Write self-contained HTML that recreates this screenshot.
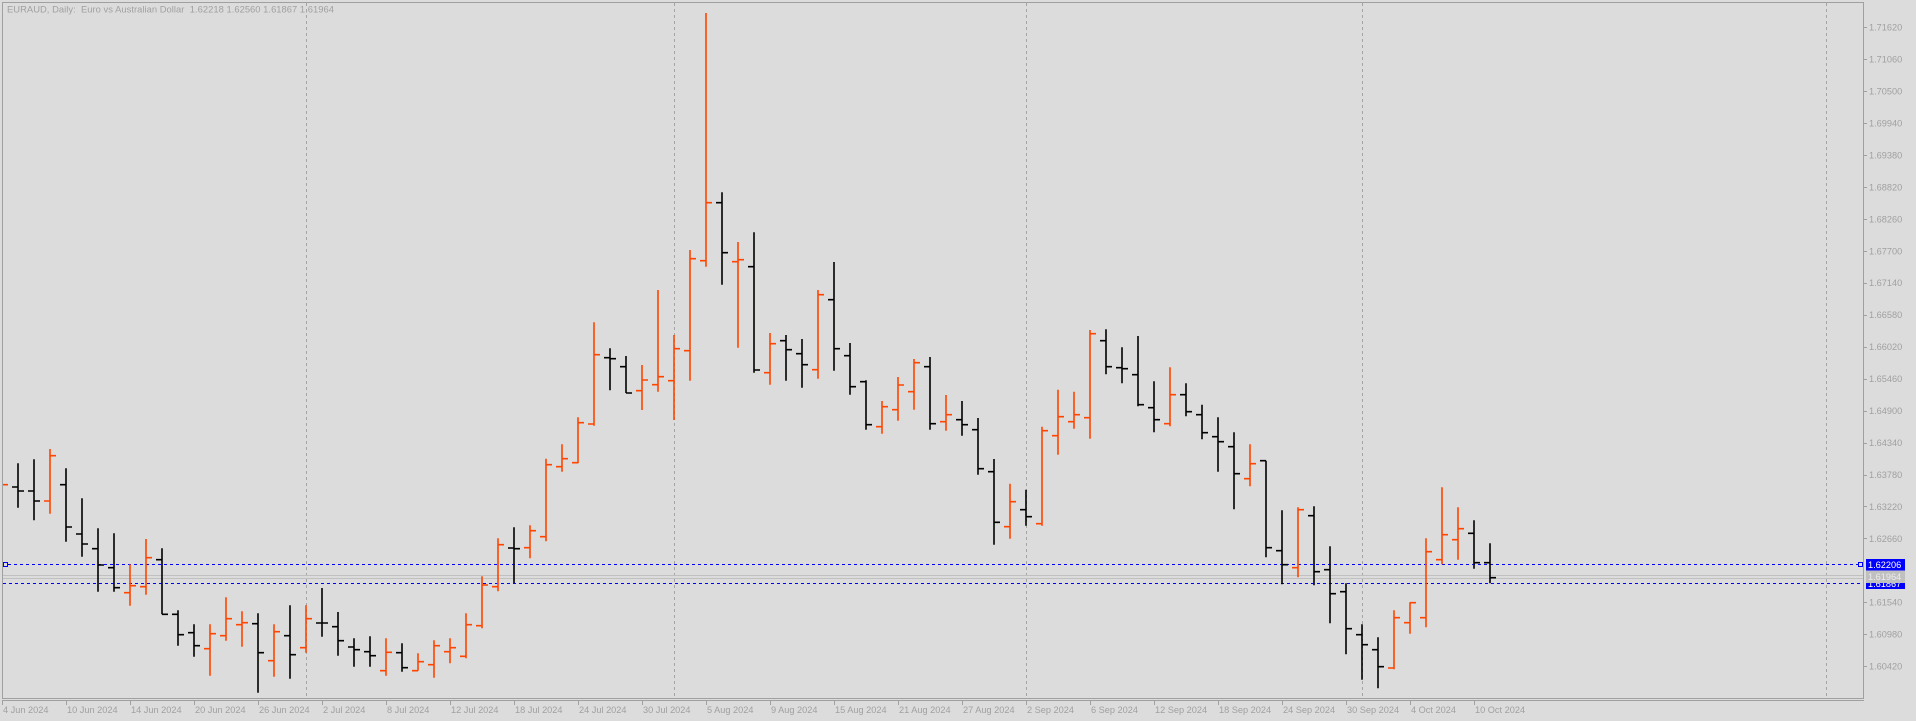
<!DOCTYPE html>
<html>
<head>
<meta charset="utf-8">
<style>
html,body{margin:0;padding:0;background:#dcdcdc;}
svg{display:block;}
text{font-family:"Liberation Sans",Arial,sans-serif;}
</style>
</head>
<body>
<svg width="1916" height="721" viewBox="0 0 1916 721" xmlns="http://www.w3.org/2000/svg">
<rect x="0" y="0" width="1916" height="721" fill="#dcdcdc"/>

<!-- vertical dashed grid lines -->
<g stroke="#a4a4a4" stroke-width="1" stroke-dasharray="3,3">
<line x1="306.5" y1="3" x2="306.5" y2="698"/>
<line x1="674.5" y1="3" x2="674.5" y2="698"/>
<line x1="1026.5" y1="3" x2="1026.5" y2="698"/>
<line x1="1362.5" y1="3" x2="1362.5" y2="698"/>
<line x1="1826.5" y1="3" x2="1826.5" y2="698"/>
</g>

<!-- bid/ask lines -->
<g stroke="#c0c0c0" stroke-width="1">
<line x1="3" y1="575.5" x2="1863" y2="575.5"/>
<line x1="3" y1="578.5" x2="1863" y2="578.5"/>
</g>

<!-- blue dashed horizontal lines -->
<g stroke="#0000ff" stroke-width="1" stroke-dasharray="3,3">
<line x1="8" y1="564.5" x2="1858" y2="564.5"/>
<line x1="3" y1="583.5" x2="1863" y2="583.5"/>
</g>
<rect x="3.5" y="562.5" width="4" height="4" fill="#dcdcdc" stroke="#0000ff" stroke-width="1"/>
<rect x="1858.5" y="562.5" width="4" height="4" fill="#dcdcdc" stroke="#0000ff" stroke-width="1"/>

<!-- black bars -->
<path fill="none" stroke="#000000" stroke-width="1.6" d="
M18 463.3V507.7M12 487H18M18 491H24
M34 459.3V520.3M28 491H34M34 501H40
M66 468.3V541.7M60 484.7H66M66 527H72
M82 498.3V556.7M76 534H82M82 544H88
M98 528.3V591.7M92 548.7H98M98 565H104
M114 533.3V591.7M108 567.7H114M114 587.7H120
M162 548.3V614.3M156 559.7H162M162 614.3H168
M178 610.3V645.7M172 614.3H178M178 634.7H184
M194 624.3V656.7M188 632.7H194M194 645.7H200
M258 613.3V692.7M252 623.7H258M258 652.7H264
M290 605.3V678.7M284 635.7H290M290 654.7H296
M322 588V636.7M316 623H322M322 623H328
M338 612V655.7M332 626.7H338M338 640.7H344
M354 638.3V666.7M348 647H354M354 649.7H360
M370 636.3V666.7M364 651.7H370M370 655.7H376
M402 643.3V671.7M396 652.7H402M402 667.7H408
M514 527.3V583.3M508 548H514M514 548.7H520
M610 348.3V390.3M604 357.7H610M610 358.7H616
M626 356V393M620 366.7H626M626 393H632
M722 192.3V284.7M716 202.7H722M722 252.7H728
M754 232.3V372.7M748 266.7H754M754 370H760
M786 335V380.7M780 340.7H786M786 349.7H792
M802 339V387.7M796 353.7H802M802 364.7H808
M834 262V370.7M828 299.7H834M834 348.7H840
M850 343V394.7M844 355.7H850M850 386.7H856
M866 380.3V429.7M860 381.7H866M866 424.7H872
M930 357V429.7M924 366.7H930M930 423.7H936
M962 401V435.7M956 419.7H962M962 424.7H968
M978 418V474.7M972 429.7H978M978 468.7H984
M994 459V544.7M988 471.7H994M994 522.3H1000
M1026 489.7V525.7M1020 509.7H1026M1026 516.7H1032
M1106 329.3V374.3M1100 340.7H1106M1106 366.7H1112
M1122 347.3V383.3M1116 367.7H1122M1122 368.7H1128
M1138 336V406.3M1132 374.7H1138M1138 404.7H1144
M1154 381.3V432.3M1148 407.7H1154M1154 419.7H1160
M1186 383.3V416.3M1180 394.7H1186M1186 411.7H1192
M1202 404.7V439.3M1196 414.7H1202M1202 432.7H1208
M1218 417.3V471.7M1212 436.7H1218M1218 441.7H1224
M1234 432.3V509.3M1228 446.7H1234M1234 473.7H1240
M1266 460.7V557.3M1260 460.7H1266M1266 547.7H1272
M1282 510.3V584.3M1276 550.7H1282M1282 564.7H1288
M1314 506.3V585.3M1308 515.7H1314M1314 571.7H1320
M1330 546.3V623.3M1324 569.7H1330M1330 593.7H1336
M1346 583.3V654.3M1340 591.7H1346M1346 628.7H1352
M1362 624.3V679.7M1356 634.7H1362M1362 644.7H1368
M1378 637.3V688.3M1372 649.7H1378M1378 666.7H1384
M1474 520.3V568.7M1468 533.3H1474M1474 562.7H1480
M1490 543.3V583.3M1484 562.7H1490M1490 577.7H1496
"/>

<!-- orange bars -->
<path fill="none" stroke="#ff4500" stroke-width="1.6" d="
M3 484.7H8
M50 449V513.7M44 501H50M50 455.7H56
M130 564.3V605.7M124 592.7H130M130 585.7H136
M146 539V594.7M140 586.7H146M146 557.7H152
M210 624.3V675.7M204 648.7H210M210 633.7H216
M226 597.3V640.7M220 635.7H226M226 618.7H232
M242 611.3V646.7M236 624.7H242M242 622.7H248
M274 624.3V676.7M268 660.7H274M274 631.7H280
M306 605.3V652.7M300 647.7H306M306 618.7H312
M386 638.3V675.7M380 670.7H386M386 652.3H392
M418 653.3V670.7M412 670.7H418M418 661.7H424
M434 640.3V677.7M428 664.7H434M434 645.7H440
M450 638.3V663.3M444 651.7H450M450 647.7H456
M466 613.3V658.3M460 656.3H466M466 624.7H472
M482 576.3V628.3M476 625.7H482M482 585H488
M498 538.3V591.3M492 586.7H498M498 544.7H504
M530 525.3V558.3M524 547.7H530M530 530.7H536
M546 458.7V541.3M540 536.7H546M546 464.7H552
M562 444.3V471.7M556 466.7H562M562 458.7H568
M578 417.3V463.3M572 462.7H578M578 422.7H584
M594 322.3V425.7M588 424H594M594 354.7H600
M642 365V410M636 390.7H642M642 380H648
M658 290V391.7M652 384.7H658M658 376.7H664
M674 335V420M668 380.7H674M674 348.7H680
M690 250V380.7M684 350.7H690M690 258.7H696
M706 13V266.7M700 260.7H706M706 202.7H712
M738 242V347.7M732 261.7H738M738 259.7H744
M770 333V384.7M764 372.7H770M770 343.7H776
M818 290V378.7M812 369.7H818M818 294.7H824
M882 401V433.7M876 426.7H882M882 406.7H888
M898 377V420.7M892 409.7H898M898 385H904
M914 359V409.7M908 391.7H914M914 362.7H920
M946 395V430.7M940 421.7H946M946 414.7H952
M1010 483.7V538.7M1004 526.7H1010M1010 501.7H1016
M1042 426.7V525.7M1036 523.7H1042M1042 430.7H1048
M1058 389.7V454.7M1052 435.7H1058M1058 416.7H1064
M1074 391.7V428.7M1068 421.7H1074M1074 414.7H1080
M1090 330V438.7M1084 417.7H1090M1090 333.7H1096
M1170 367.3V426.3M1164 423.7H1170M1170 394.7H1176
M1250 444.3V486.3M1244 478.7H1250M1250 463.7H1256
M1298 507.3V577.3M1292 567.7H1298M1298 509.7H1304
M1394 610.3V669.3M1388 668H1394M1394 617.7H1400
M1410 602.3V633.7M1404 622.7H1410M1410 602.7H1416
M1426 538.3V627.3M1420 617.7H1426M1426 551.7H1432
M1442 487.3V564.3M1436 559.7H1442M1442 534.7H1448
M1458 507.3V559.7M1452 539.7H1458M1458 528.7H1464
"/>

<!-- chart frame -->
<g stroke="#a0a0a0" stroke-width="1" fill="none">
<rect x="2.5" y="2.5" width="1861" height="696"/>
<line x1="2" y1="700.5" x2="1864" y2="700.5"/>
</g>

<!-- price axis ticks -->
<path stroke="#a0a0a0" stroke-width="1" d="
M1863 27.5H1867M1863 59.5H1867M1863 91.5H1867M1863 123.5H1867M1863 155.5H1867M1863 187.5H1867M1863 219.5H1867
M1863 251.5H1867M1863 283.5H1867M1863 315.5H1867M1863 347.5H1867M1863 379.5H1867M1863 411.5H1867M1863 443.5H1867
M1863 475.5H1867M1863 506.5H1867M1863 538.5H1867M1863 602.5H1867M1863 634.5H1867M1863 666.5H1867"/>

<g fill="#a0a0a0" font-size="9.2">
<text x="1869" y="30.6">1.71620</text>
<text x="1869" y="62.6">1.71060</text>
<text x="1869" y="94.5">1.70500</text>
<text x="1869" y="126.5">1.69940</text>
<text x="1869" y="158.4">1.69380</text>
<text x="1869" y="190.4">1.68820</text>
<text x="1869" y="222.3">1.68260</text>
<text x="1869" y="254.3">1.67700</text>
<text x="1869" y="286.2">1.67140</text>
<text x="1869" y="318.2">1.66580</text>
<text x="1869" y="350.1">1.66020</text>
<text x="1869" y="382.1">1.65460</text>
<text x="1869" y="414.0">1.64900</text>
<text x="1869" y="446.0">1.64340</text>
<text x="1869" y="477.9">1.63780</text>
<text x="1869" y="509.9">1.63220</text>
<text x="1869" y="541.8">1.62660</text>
<text x="1869" y="605.7">1.61540</text>
<text x="1869" y="637.7">1.60980</text>
<text x="1869" y="669.6">1.60420</text>
</g>

<!-- price labels -->
<rect x="1866" y="559" width="39" height="11.5" fill="#0000ff"/>
<text x="1868" y="568.2" font-size="9.2" fill="#ffffff">1.62206</text>
<rect x="1866" y="577" width="39" height="12" fill="#0000ff"/>
<text x="1868" y="587" font-size="9.2" fill="#ffffff">1.61867</text>
<rect x="1866" y="570.5" width="39" height="12.5" fill="#c0c0c0"/>
<text x="1868" y="580.2" font-size="9.2" fill="#ececec">1.61964</text>

<!-- time axis ticks -->
<path stroke="#a0a0a0" stroke-width="1" d="
M2.5 700V705M66.5 700V705M130.5 700V705M194.5 700V705M258.5 700V705M322.5 700V705M386.5 700V705M450.5 700V705
M514.5 700V705M578.5 700V705M642.5 700V705M706.5 700V705M770.5 700V705M834.5 700V705M898.5 700V705M962.5 700V705
M1026.5 700V705M1090.5 700V705M1154.5 700V705M1218.5 700V705M1282.5 700V705M1346.5 700V705M1410.5 700V705M1474.5 700V705"/>

<g fill="#a0a0a0" font-size="9.2">
<text x="3" y="713">4 Jun 2024</text>
<text x="67" y="713">10 Jun 2024</text>
<text x="131" y="713">14 Jun 2024</text>
<text x="195" y="713">20 Jun 2024</text>
<text x="259" y="713">26 Jun 2024</text>
<text x="323" y="713">2 Jul 2024</text>
<text x="387" y="713">8 Jul 2024</text>
<text x="451" y="713">12 Jul 2024</text>
<text x="515" y="713">18 Jul 2024</text>
<text x="579" y="713">24 Jul 2024</text>
<text x="643" y="713">30 Jul 2024</text>
<text x="707" y="713">5 Aug 2024</text>
<text x="771" y="713">9 Aug 2024</text>
<text x="835" y="713">15 Aug 2024</text>
<text x="899" y="713">21 Aug 2024</text>
<text x="963" y="713">27 Aug 2024</text>
<text x="1027" y="713">2 Sep 2024</text>
<text x="1091" y="713">6 Sep 2024</text>
<text x="1155" y="713">12 Sep 2024</text>
<text x="1219" y="713">18 Sep 2024</text>
<text x="1283" y="713">24 Sep 2024</text>
<text x="1347" y="713">30 Sep 2024</text>
<text x="1411" y="713">4 Oct 2024</text>
<text x="1475" y="713">10 Oct 2024</text>
</g>

<!-- header -->
<text x="7" y="12.5" font-size="9.4" fill="#a0a0a0" style="white-space:pre" textLength="327" lengthAdjust="spacing">EURAUD, Daily:  Euro vs Australian Dollar  1.62218 1.62560 1.61867 1.61964</text>
</svg>
</body>
</html>
